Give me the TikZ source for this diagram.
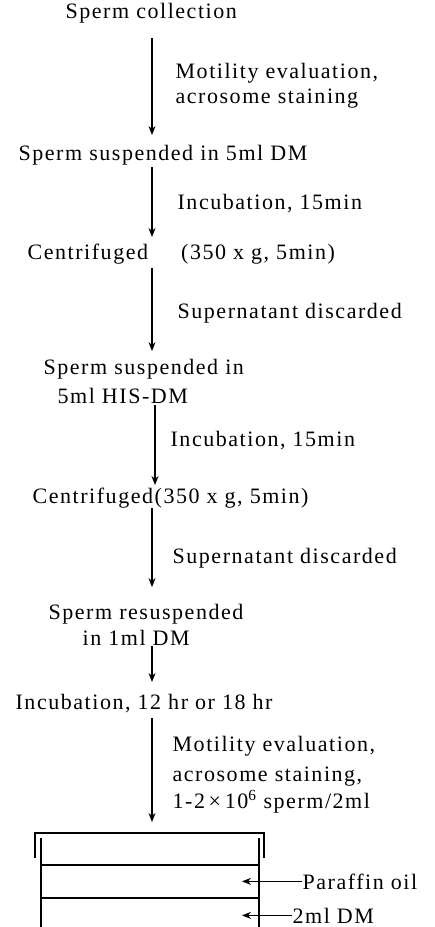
\documentclass[tikz,border=0pt]{standalone}
\usepackage{fontspec}
\setmainfont{Liberation Serif}[LetterSpace=7]
\usetikzlibrary{arrows.meta,positioning,calc}

\begin{document}
\begin{tikzpicture}[x=1pt, y=-1pt,
  font=\fontsize{22}{26}\selectfont, >={Stealth[length=9pt,width=7pt]}, line width=1.3pt,
  stage/.style={anchor=base west, inner sep=0pt, align=left},
  note/.style={anchor=base west, inner sep=0pt, align=left},
  arr/.style={->, draw=black}]
\useasboundingbox (0,0) rectangle (435,927);
\coordinate (spine) at (152,0);
\coordinate (wall) at (242,0);

% main sequence (multi-line nodes sit on their last baseline)
\node[stage] (collect) at (65,18)  {Sperm collection};
\node[stage] (susp)    at (18,160) {Sperm suspended in 5ml DM};
\node[stage] (cent1)   at (27,259) {Centrifuged\hspace{33pt}(350 x g, 5min)};
\node[stage] (his)     at (43,403) {Sperm suspended in\\[3pt]\hspace*{14pt}5ml HIS-DM};
\node[stage] (cent2)   at (32,503) {Centrifuged(350 x g, 5min)};
\node[stage] (resusp)  at (48,645) {Sperm resuspended\\\hspace*{34pt}in 1ml DM};
\node[stage] (inc12)   at (15,709) {Incubation, 12 hr or 18 hr};
\coordinate (lid) at (152,833);

% side notes
\node[note] (n1) at (175,103) {Motility evaluation,\\[-1pt]acrosome staining};
\node[note] (n2) at (177,209) {Incubation, 15min};
\node[note] (n3) at (177,318) {Supernatant discarded};
\node[note] (n4) at (170,446) {Incubation, 15min};
\node[note] (n5) at (172,563) {Supernatant discarded};
\node[note] (n7) at (172,808) {Motility evaluation,\\[4pt]acrosome staining,\\[1pt]1-2{\,}×{\,}10\textsuperscript{6} sperm/2ml};

% arrows down the spine
\draw[arr, shorten <=20pt, shorten >=25pt] (collect.base -| spine) -- (susp.base -| spine);
\draw[arr, shorten <=7pt, shorten >=22pt] (susp.base -| spine) -- (cent1.base -| spine);
\draw[arr, shorten <=9pt, shorten >=7pt] (cent1.base -| spine) -- (his.north -| spine);
\draw[arr, shorten <=1pt, shorten >=18pt] ([xshift=3pt]his.south -| spine) -- ([xshift=3pt]cent2.base -| spine);
\draw[arr, shorten <=5pt, shorten >=16pt] (cent2.base -| spine) -- (resusp.north -| spine);
\draw[arr, shorten >=27pt] (resusp.south -| spine) -- (inc12.base -| spine);
\draw[arr, shorten <=9pt, shorten >=11pt] (inc12.base -| spine) -- (lid);

% culture dish
\draw (35,858) |- (264,833) -- (264,858);
\draw (41,838) -- (41,927);
\draw (259,838) -- (259,927);
\draw (41,865) -- (259,865);
\draw (41,898) -- (259,898);

\node[note] (oil) at (302,889) {Paraffin oil};
\node[note] (dm)  at (292,923) {2ml DM};
\draw[arr] (oil.west) -- (oil.west -| wall);
\draw[arr] (dm.west) -- (dm.west -| wall);
\end{tikzpicture}
\end{document}
